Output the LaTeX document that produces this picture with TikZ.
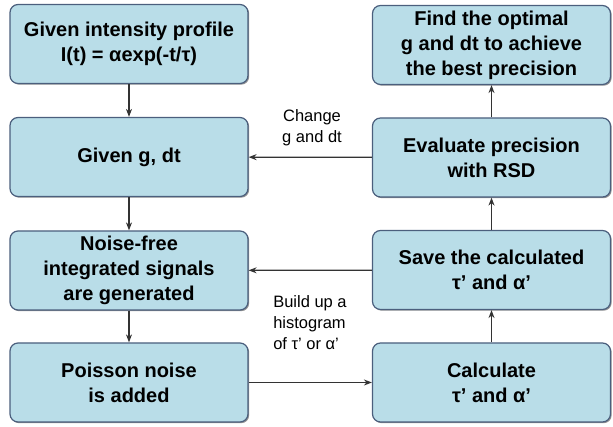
\documentclass[tikz,border=0pt]{standalone}
\usepackage{fontspec}
\setmainfont{Liberation Sans}
\usetikzlibrary{arrows.meta,shadows}

\definecolor{boxfill}{RGB}{185,221,232}
\definecolor{boxline}{RGB}{75,95,125}

\begin{document}
\begin{tikzpicture}[
    x = 1pt, y = 1pt,
    line join=round,
    box/.style = {draw=boxline, line width=1.2pt, fill=boxfill, rounded corners=8pt,
        minimum width=238pt, minimum height=79pt, inner sep=2pt, align=center,
        font=\fontsize{20}{25}\selectfont\bfseries,
        drop shadow={shadow xshift=1.2pt, shadow yshift=-1.2pt, fill=black!70, opacity=0.6}},
    note/.style = {align=center, font=\fontsize{16.5}{21}\selectfont},
    flow/.style = {-{Stealth[length=8pt, width=6pt]}, line width=1.3pt, black!80}
]

\useasboundingbox (0,0) rectangle (613,427);

% left column
\node[box] (given) at (129,383) {Given intensity profile\\I(t) = αexp(-t/τ)};
\node[box] (gdt) at (129,270) {Given g, dt};
\node[box] (noise) at (129,156.5) {Noise-free\\integrated signals\\are generated};
\node[box] (poisson) at (129,44.5) {Poisson noise\\is added};

% right column
\node[box] (find) at (491.5,382) {Find the optimal\\g and dt to achieve\\the best precision};
\node[box] (eval) at (491.5,269.5) {Evaluate precision\\with RSD};
\node[box] (save) at (491.5,157) {Save the calculated\\τ’ and α’};
\node[box] (calc) at (491.5,44.5) {Calculate\\τ’ and α’};

\draw[flow] (given) -- (gdt);
\draw[flow] (gdt) -- (noise);
\draw[flow] (noise) -- (poisson);
\draw[flow] (poisson) -- (calc);

\draw[flow] (calc) -- (save);
\draw[flow] (save) -- (eval);
\draw[flow] (eval) -- (find);

\draw[flow] (eval) -- (gdt);
\draw[flow] (save) -- (noise);

\node[note] (change) at (312,299) {Change\\g and dt};
\node[note, align=left] (build) at (310,104) {Build up a\\histogram\\of τ' or α'};

\end{tikzpicture}
\end{document}
